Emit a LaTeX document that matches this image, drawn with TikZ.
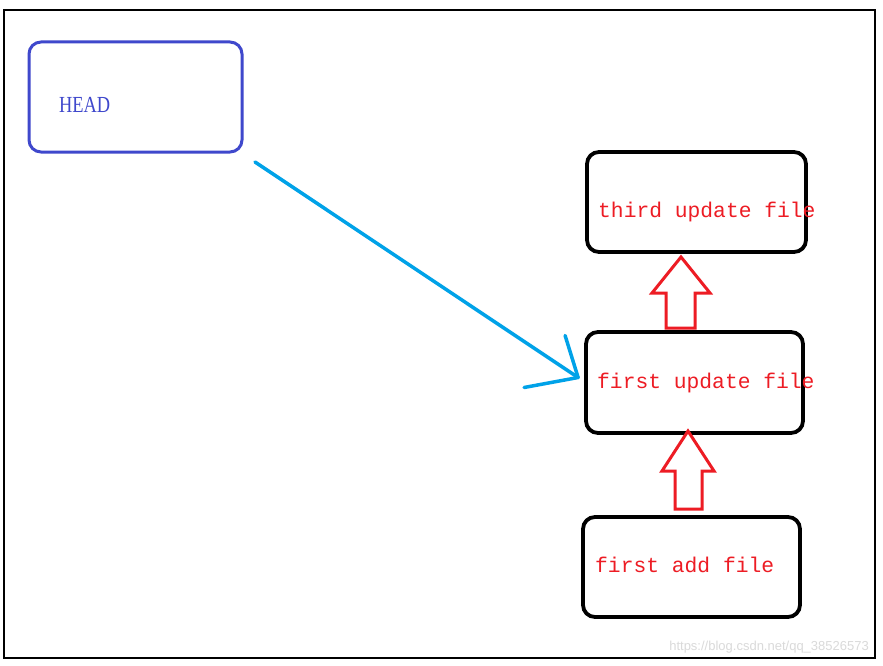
\documentclass[tikz,border=0pt]{standalone}
\usepackage{fontspec}
\usetikzlibrary{calc}
\setmainfont{Liberation Serif}
\newfontfamily\monofnt{Liberation Mono}
\newfontfamily\sansfnt{Liberation Sans}
\definecolor{headblue}{HTML}{3F48CC}
\definecolor{skyblue}{HTML}{00A2E8}
\definecolor{paintred}{HTML}{ED1C24}
\definecolor{wmgray}{HTML}{DADADA}
\begin{document}
\begin{tikzpicture}[x=1pt,y=-1pt,
  box/.style={draw=black,line width=3.8pt,rounded corners=12pt,inner sep=0pt},
  headbox/.style={draw=headblue,line width=3pt,rounded corners=12pt,inner sep=0pt},
  redtxt/.style={text=paintred,font=\monofnt\fontsize{21.3}{24}\selectfont,anchor=base west,inner sep=0pt},
  hollow/.style={draw=paintred,line width=3pt,fill=white,line join=miter},
  pointer/.style={draw=skyblue,line width=3.5pt,line cap=round,line join=round}]
\useasboundingbox (0,0) rectangle (883,666);
\fill[white] (0,0) rectangle (883,666);
\draw[black,line width=1.3pt] (4,10) rectangle (875,658);
% boxes
\node[headbox,minimum width=213pt,minimum height=110pt] (head) at (135.5,97) {};
\node[box,minimum width=219pt,minimum height=100pt] (tu) at (696.5,202) {};
\node[box,minimum width=217pt,minimum height=101pt] (fu) at (694.5,382.5) {};
\node[box,minimum width=217pt,minimum height=100pt] (fa) at (691.5,567) {};
% texts
\node[text=headblue,font=\fontsize{23}{26}\selectfont,anchor=base west,inner sep=0pt,xscale=0.8] (headtxt) at (59,113) {HEAD};
\node[redtxt] (tutxt) at (598,217) {third update file};
\node[redtxt] (futxt) at (597,388) {first update file};
\node[redtxt] (fatxt) at (595,572) {first add file};
% hollow arrows
\coordinate (a1tip) at (681,257);
\coordinate (a2tip) at (688,431);
\draw[hollow] (a1tip) -- (710,293) -- (695,293) -- (695,328) -- (666,328) -- (666,293) -- (652,293) -- cycle;
\draw[hollow] (a2tip) -- (714,471) -- (702,471) -- (702,509) -- (675,509) -- (675,471) -- (662,471) -- cycle;
% blue pointer
\coordinate (pstart) at (255,162);
\coordinate (ptip) at ($(fu.west)+(-6,-5)$);
\draw[pointer] (pstart) -- (ptip);
\draw[pointer] (ptip) -- ++(-13,-42);
\draw[pointer] (ptip) -- ++(-54,10);
% watermark
\node[text=wmgray,font=\sansfnt\fontsize{13}{15}\selectfont,anchor=base east,inner sep=0pt] (wm) at (869,650) {https://blog.csdn.net/qq\_38526573};
\end{tikzpicture}
\end{document}
